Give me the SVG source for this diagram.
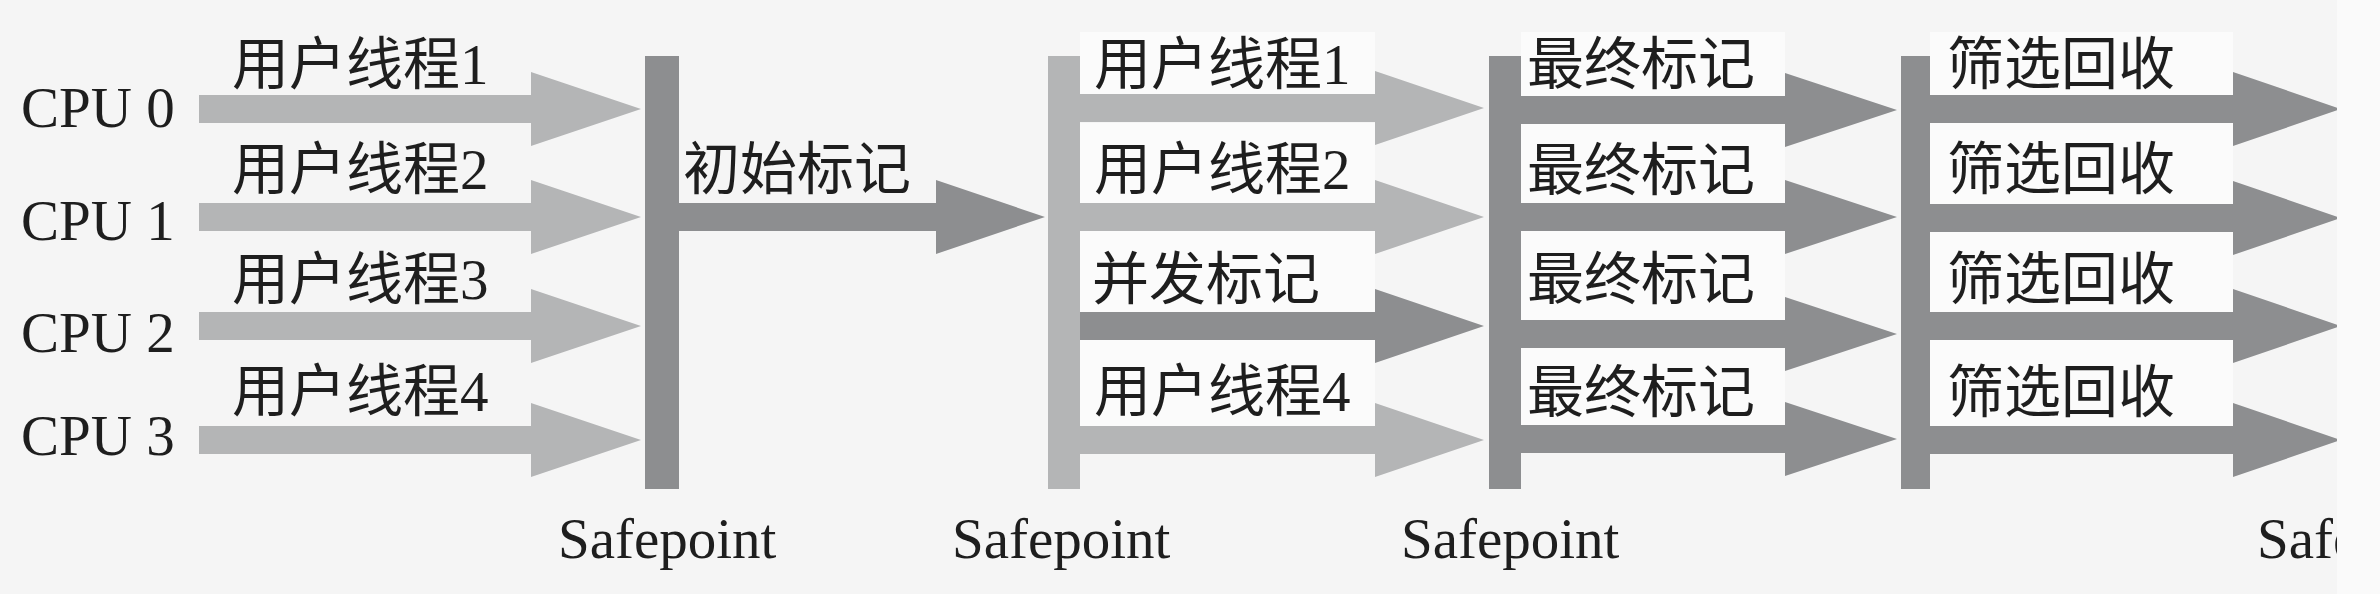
<svg xmlns="http://www.w3.org/2000/svg" width="2380" height="594" viewBox="0 0 2380 594">
<style>
.bg{fill:#f5f5f5}
.box{fill:#fbfbfb}
.lt{fill:#b4b5b6}
.dk{fill:#8d8e90}
.t{font-family:"Liberation Serif","Noto Sans CJK SC",serif;font-size:57px;fill:#1e1e1e}
.c{font-family:"Liberation Serif","Noto Sans CJK SC",serif;font-size:57px;fill:#1e1e1e}
</style>
<defs>
<clipPath id="clip"><rect x="0" y="0" width="2337" height="594"/></clipPath>
</defs>
<rect class="bg" x="0" y="0" width="2380" height="594"/>
<rect x="2337" y="0" width="43" height="594" fill="#fafafa"/>
<g clip-path="url(#clip)">
<g id="label-boxes">
<rect class="box" x="1080" y="32" width="295" height="62"/>
<rect class="box" x="1080" y="123" width="295" height="80"/>
<rect class="box" x="1080" y="231" width="295" height="81"/>
<rect class="box" x="1080" y="340" width="295" height="86"/>
<rect class="box" x="1521" y="32" width="264" height="64"/>
<rect class="box" x="1521" y="124" width="264" height="79"/>
<rect class="box" x="1521" y="231" width="264" height="89"/>
<rect class="box" x="1521" y="348" width="264" height="77"/>
<rect class="box" x="1930" y="32" width="303" height="63"/>
<rect class="box" x="1930" y="123" width="303" height="81"/>
<rect class="box" x="1930" y="232" width="303" height="80"/>
<rect class="box" x="1930" y="340" width="303" height="86"/>
</g>
<g id="connectors">
<polygon class="lt" points="199,95 531,95 531,72 641,109 531,146 531,123 199,123"/>
<polygon class="lt" points="199,203 531,203 531,180 641,217 531,254 531,231 199,231"/>
<polygon class="lt" points="199,312 531,312 531,289 641,326 531,363 531,340 199,340"/>
<polygon class="lt" points="199,426 531,426 531,403 641,440 531,477 531,454 199,454"/>
<polygon class="dk" points="679,203 936,203 936,180 1045,217 936,254 936,231 679,231"/>
<polygon class="lt" points="1080,94 1375,94 1375,71 1484,108 1375,145 1375,122 1080,122"/>
<polygon class="lt" points="1080,203 1375,203 1375,180 1484,217 1375,254 1375,231 1080,231"/>
<polygon class="dk" points="1080,312 1375,312 1375,289 1484,326 1375,363 1375,340 1080,340"/>
<polygon class="lt" points="1080,426 1375,426 1375,403 1484,440 1375,477 1375,454 1080,454"/>
<polygon class="dk" points="1521,96 1785,96 1785,73 1897,110 1785,147 1785,124 1521,124"/>
<polygon class="dk" points="1521,203 1785,203 1785,180 1897,217 1785,254 1785,231 1521,231"/>
<polygon class="dk" points="1521,320 1785,320 1785,297 1897,334 1785,371 1785,348 1521,348"/>
<polygon class="dk" points="1521,425 1785,425 1785,402 1897,439 1785,476 1785,453 1521,453"/>
<polygon class="dk" points="1930,95 2233,95 2233,72 2341,109 2233,146 2233,123 1930,123"/>
<polygon class="dk" points="1930,204 2233,204 2233,181 2341,218 2233,255 2233,232 1930,232"/>
<polygon class="dk" points="1930,312 2233,312 2233,289 2341,326 2233,363 2233,340 1930,340"/>
<polygon class="dk" points="1930,426 2233,426 2233,403 2341,440 2233,477 2233,454 1930,454"/>
<text class="t" x="232" y="84">用户线程1</text>
<text class="t" x="232" y="189">用户线程2</text>
<text class="t" x="232" y="299">用户线程3</text>
<text class="t" x="232" y="411">用户线程4</text>
<text class="t" x="683" y="189">初始标记</text>
<text class="t" x="1094" y="84">用户线程1</text>
<text class="t" x="1094" y="189">用户线程2</text>
<text class="t" x="1092" y="299">并发标记</text>
<text class="t" x="1094" y="411">用户线程4</text>
<text class="t" x="1527" y="84">最终标记</text>
<text class="t" x="1527" y="190">最终标记</text>
<text class="t" x="1527" y="299">最终标记</text>
<text class="t" x="1527" y="412">最终标记</text>
<text class="t" x="1947" y="84">筛选回收</text>
<text class="t" x="1947" y="189">筛选回收</text>
<text class="t" x="1947" y="299">筛选回收</text>
<text class="t" x="1947" y="412">筛选回收</text>
</g>
<g id="cpu0"><text class="c" x="21" y="127">CPU 0</text></g>
<g id="cpu1"><text class="c" x="21" y="240">CPU 1</text></g>
<g id="cpu2"><text class="c" x="21" y="352">CPU 2</text></g>
<g id="cpu3"><text class="c" x="21" y="455">CPU 3</text></g>
<g id="safepoint1"><rect class="dk" x="645" y="56" width="34" height="433"/><text class="c" x="558" y="558">Safepoint</text></g>
<g id="safepoint2"><rect class="lt" x="1048" y="56" width="32" height="433"/><text class="c" x="952" y="558">Safepoint</text></g>
<g id="safepoint3"><rect class="dk" x="1489" y="56" width="32" height="433"/><text class="c" x="1401" y="558">Safepoint</text></g>
<g id="safepoint4"><rect class="dk" x="1901" y="56" width="29" height="433"/><text class="c" x="2257" y="558">Safepoint</text></g>
</g>
</svg>
